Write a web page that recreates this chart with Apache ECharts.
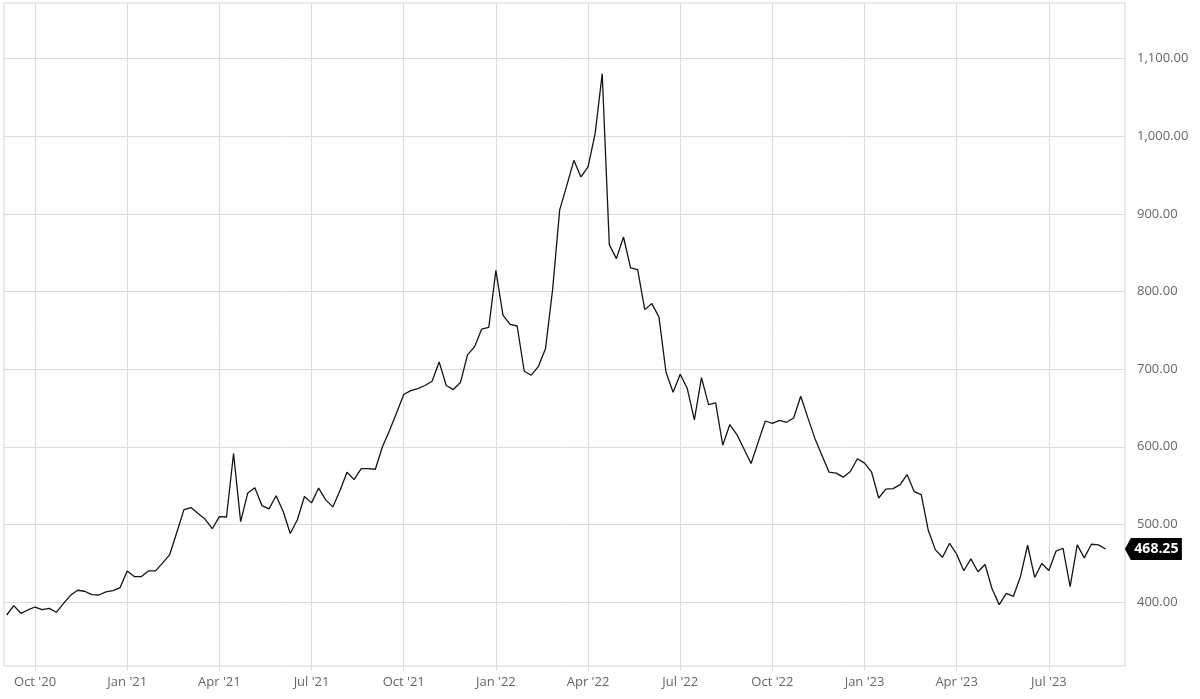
<!DOCTYPE html>
<html>
<head>
<meta charset="utf-8">
<script src="https://cdn.jsdelivr.net/npm/echarts@6/dist/echarts.min.js"></script>
<style>
html,body{margin:0;padding:0;background:#fff;}
#chart{width:1200px;height:699px;}
</style>
</head>
<body>
<div id="chart"></div>
<script>
// Weekly closing values (week index 0 = first plotted week)
var values2020 = [383.2, 395.3, 385.4, 389.7, 393.5, 390.1, 391.8, 386.7, 397.8, 408.6, 415.1, 413.8, 409.5, 409.0, 412.9, 414.6, 418.5];
var values2021 = [440.0, 432.7, 432.7, 440.0, 440.0, 450.3, 461.1, 489.9, 519.0, 521.7, 514.0, 506.5, 494.4, 510.0, 509.5, 591.3, 503.5, 540.3, 547.2, 524.2, 519.9, 536.8, 516.5, 488.3, 506.0, 535.9, 527.7, 546.8, 531.6, 522.5, 543.3, 567.1, 557.6, 571.9, 571.9, 571.0, 600.0, 621.0, 643.7, 667.3, 672.4, 675.0, 678.9, 684.4, 709.3, 678.9, 673.7, 682.7, 718.3, 729.0, 751.7, 753.9];
var values2022 = [827.2, 769.7, 757.7, 755.6, 697.3, 692.2, 703.7, 726.4, 802.3, 905.3, 936.5, 969.1, 947.6, 960.5, 1003.4, 1080.7, 860.5, 842.4, 870.3, 830.4, 828.3, 776.7, 784.5, 767.3, 696.0, 670.2, 693.4, 675.0, 634.6, 689.1, 654.4, 656.5, 602.0, 628.6, 615.7, 597.0, 578.4, 606.0, 633.2, 630.2, 634.1, 631.5, 637.1, 665.1, 637.5, 610.8, 588.8, 567.2, 566.0, 560.8, 568.1, 584.5];
var values2023 = [578.9, 567.2, 534.0, 545.3, 546.1, 550.9, 564.2, 542.2, 538.4, 492.0, 467.1, 457.7, 475.6, 461.5, 440.2, 455.6, 438.9, 448.3, 416.7, 396.6, 411.1, 407.3, 432.9, 473.1, 431.6, 449.6, 440.6, 465.4, 469.2, 419.7, 473.5, 456.8, 474.4, 473.5, 468.25];

// Quarter tick labels and the week index they fall on
var quarterLabels = ["Oct '20", "Jan '21", "Apr '21", "Jul '21", "Oct '21", "Jan '22", "Apr '22", "Jul '22", "Oct '22", "Jan '23", "Apr '23", "Jul '23"];
var quarterWeek = [4, 17, 30, 43, 56, 69, 82, 95, 108, 121, 134, 147];

// Price tick values
var priceTicks = [400, 500, 600, 700, 800, 900, 1000, 1100];

var allValues = values2020.concat(values2021, values2022, values2023);
var seriesData = allValues.map(function (v, i) { return [i, v]; });
var lastIdx = allValues.length - 1;
var lastVal = allValues[lastIdx];

function fmt(v) {
  return v.toLocaleString('en-US', {minimumFractionDigits: 2, maximumFractionDigits: 2});
}

var gridColor = '#dcdcdc';
var chart = echarts.init(document.getElementById('chart'), null, {renderer: 'canvas'});
chart.setOption({
  animation: false,
  backgroundColor: '#fff',
  textStyle: {fontFamily: 'Open Sans'},
  grid: {left: 4, right: 75, top: 3, bottom: 33, show: true, borderColor: '#d4d4d4', borderWidth: 1, containLabel: false},
  xAxis: {
    type: 'value',
    min: -0.38,
    max: 157.74,
    axisLine: {show: false},
    axisTick: {show: true, length: 4, lineStyle: {color: gridColor}, customValues: quarterWeek},
    axisLabel: {
      customValues: quarterWeek,
      color: '#666',
      fontSize: 13,
      margin: 10,
      fontFamily: 'Open Sans',
      formatter: function (v) { var k = quarterWeek.indexOf(Math.round(v)); return k >= 0 ? quarterLabels[k] : ''; }
    },
    splitLine: {show: true, lineStyle: {color: gridColor, width: 1}}
  },
  yAxis: {
    type: 'value',
    position: 'right',
    min: 317.5,
    max: 1171.8,
    axisLine: {show: false},
    axisTick: {show: false, customValues: priceTicks},
    axisLabel: {
      customValues: priceTicks,
      color: '#666',
      fontSize: 13,
      margin: 12,
      fontFamily: 'Open Sans',
      formatter: function (v) { return fmt(v); }
    },
    splitLine: {show: true, lineStyle: {color: gridColor, width: 1}}
  },
  series: [{
    type: 'line',
    data: seriesData,
    showSymbol: false,
    smooth: false,
    lineStyle: {color: '#141414', width: 1.3},
    itemStyle: {color: '#141414'},
    markPoint: {
      symbol: 'path://M0,11 L6,0 L57,0 L57,22 L6,22 Z',
      symbolSize: [57, 22],
      symbolKeepAspect: false,
      symbolOffset: [47.8, 0],
      itemStyle: {color: '#000'},
      label: {
        show: true,
        position: 'inside',
        offset: [3, 0],
        color: '#fff',
        fontWeight: 'bold',
        fontSize: 14,
        fontFamily: 'Open Sans',
        formatter: function () { return fmt(lastVal); }
      },
      data: [{coord: [lastIdx, lastVal]}]
    }
  }]
});
</script>
</body>
</html>
